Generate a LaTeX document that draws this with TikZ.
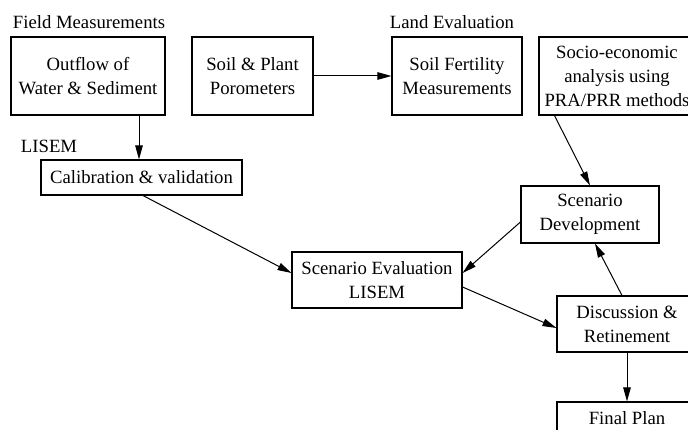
\documentclass[tikz,border=0pt]{standalone}
\usepackage{fontspec}
\setmainfont{Liberation Serif}
\usetikzlibrary{arrows.meta}
\begin{document}
\begin{tikzpicture}[x=1pt,y=-1pt,
  every node/.style={font=\fontsize{18.7}{24}\selectfont, inner sep=0pt},
  box/.style={draw, line width=1.1pt, align=center},
  lbl/.style={},
  conn/.style={line width=1pt, -{Triangle[length=14pt,width=7.5pt]}}]
\useasboundingbox (0,0) rectangle (688,430);
\clip (0,0) rectangle (688,430);
\node[lbl] (fm) at (89,22) {Field Measurements};
\node[lbl] (le) at (452,22) {Land Evaluation};
\node[lbl] (lis) at (49,146) {LISEM};
\node[box, minimum width=154pt, minimum height=78pt] (out) at (88,76) {Outflow of\\Water \& Sediment};
\node[box, minimum width=121pt, minimum height=78pt] (sp) at (252.5,76) {Soil \& Plant\\Porometers};
\node[box, minimum width=130pt, minimum height=78pt] (sf) at (457,76) {Soil Fertility\\Measurements};
\node[box, minimum width=156pt, minimum height=78pt] (so) at (617,76) {Socio-economic\\analysis using\\PRA/PRR methods};
\node[box, minimum width=201pt, minimum height=35pt] (cal) at (141.5,177.5) {Calibration \& validation};
\node[box, minimum width=170pt, minimum height=56pt] (se) at (377,280) {Scenario Evaluation\\LISEM};
\node[box, minimum width=138pt, minimum height=57pt] (sd) at (590,214.5) {Scenario\\Development};
\node[box, minimum width=140pt, minimum height=56pt] (di) at (627,324) {Discussion \&\\Retinement};
\node[box, minimum width=140pt, minimum height=56pt] (fp) at (627,430) {Final Plan\\\phantom{X}};
\draw[conn] ([xshift=51pt]out.south) -- ([xshift=51pt]out.south |- cal.north);
\draw[conn] (sp.east) -- (sf.west);
\draw[conn] ([xshift=1.5pt]cal.south) -- ([yshift=7pt]se.west);
\draw[conn] ([xshift=16pt]so.south west) -- (sd.north);
\draw[conn] ([yshift=-7.5pt]sd.west) -- ([yshift=7pt]se.east);
\draw[conn] ([yshift=-7pt]se.east) -- ([yshift=-4pt]di.west);
\draw[conn] ([xshift=-5pt]di.north) -- ([xshift=5pt]sd.south);
\draw[conn] (di.south) -- (fp.north);
\end{tikzpicture}
\end{document}
